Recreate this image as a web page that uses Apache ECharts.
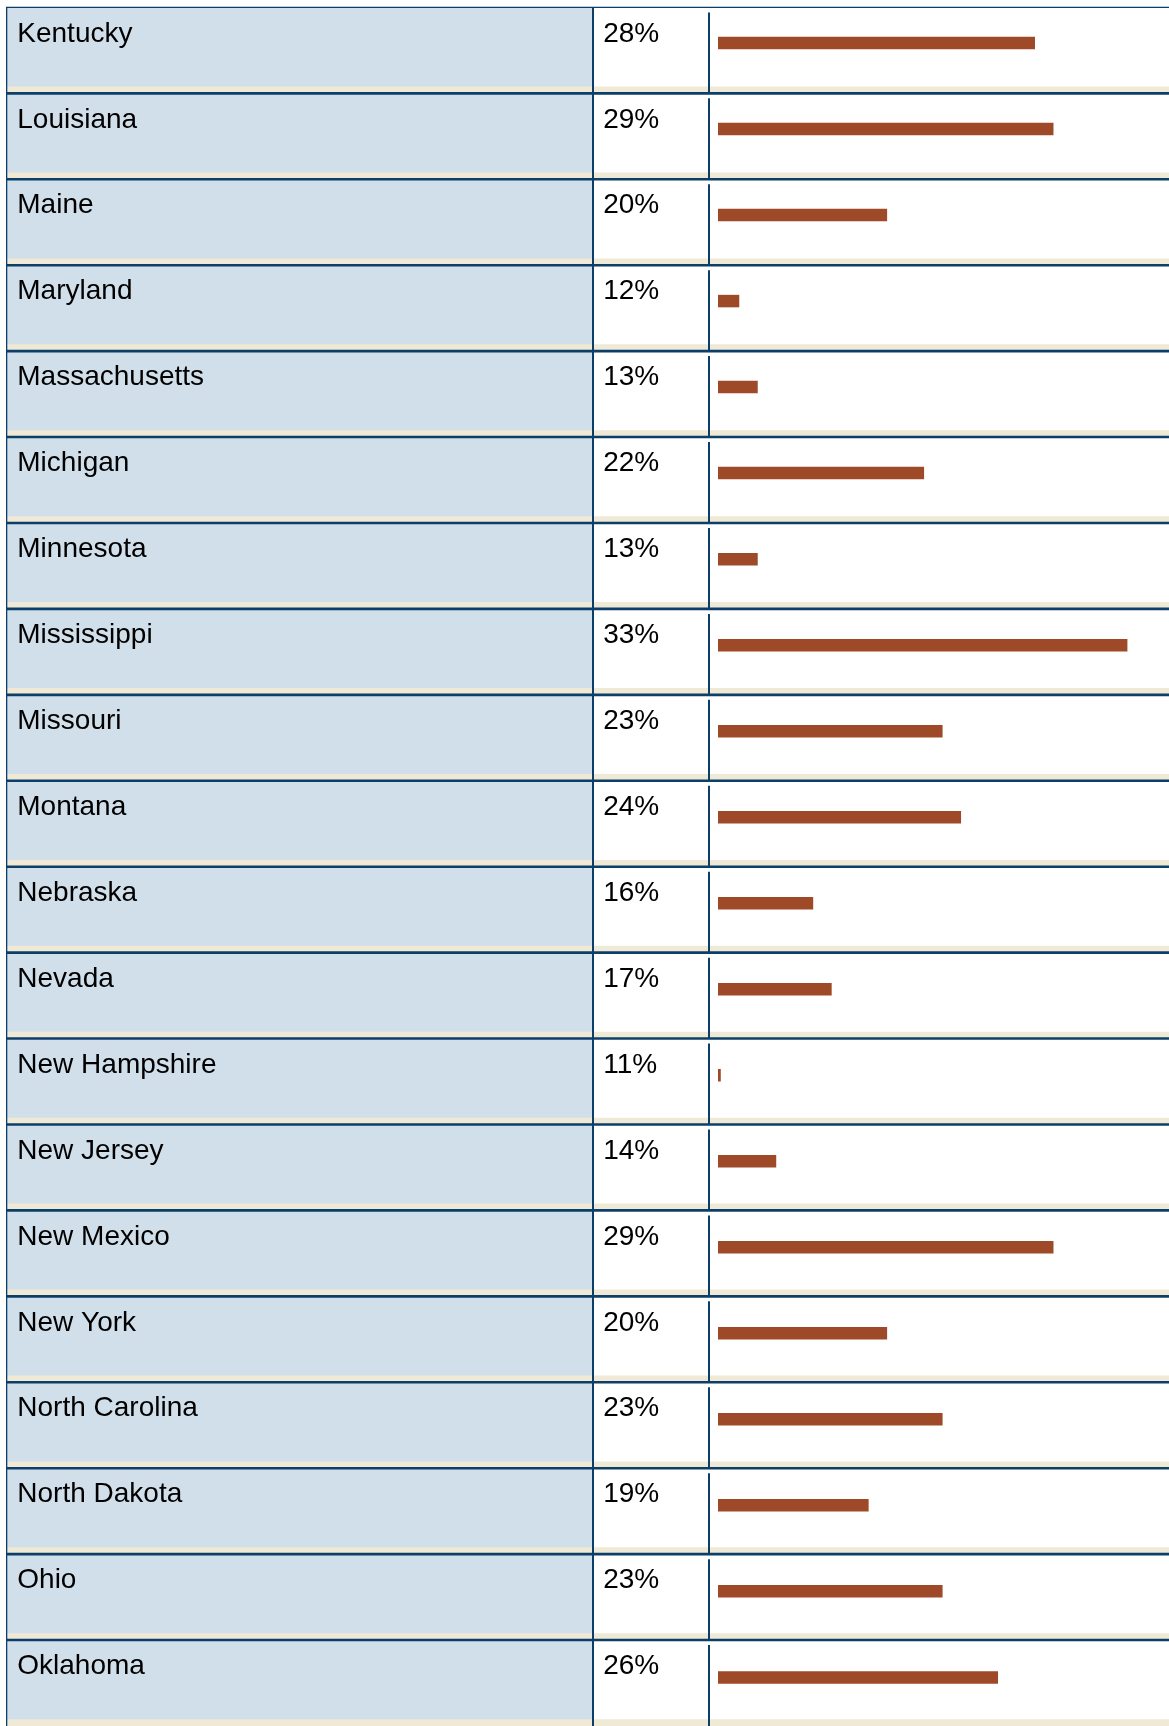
<!DOCTYPE html>
<html>
<head>
<meta charset="utf-8">
<script src="https://cdn.jsdelivr.net/npm/echarts@6/dist/echarts.min.js"></script>
<style>
  html, body { margin: 0; padding: 0; background: #ffffff; }
  #chart { width: 1169px; height: 1726px; }
</style>
</head>
<body>
<div id="chart"></div>
<script>
// Share of residents by state (percent)
const states = [
  'Kentucky', 'Louisiana', 'Maine', 'Maryland', 'Massachusetts',
  'Michigan', 'Minnesota', 'Mississippi', 'Missouri', 'Montana',
  'Nebraska', 'Nevada', 'New Hampshire', 'New Jersey', 'New Mexico',
  'New York', 'North Carolina', 'North Dakota', 'Ohio', 'Oklahoma'
];
const pcts = [
  28, 29, 20, 12, 13,
  22, 13, 33, 23, 24,
  16, 17, 11, 14, 29,
  20, 23, 19, 23, 26
];

// Table styling
const LINE = '#0b3f6a';
const CELL_BLUE = '#d1dfea';
const BEIGE = '#efe9d6';
const BAR = '#9e4a28';
const FONT = '28px "Liberation Sans", Arial, sans-serif';

const X_LEFT = 6, X_SPLIT1 = 592, X_SPLIT2 = 708, X_RIGHT = 1169;
const ROW_TOP = 7.4, ROW_H = 86.2;

// One row of the table: name cell, value cell, bar cell frame
function renderRow(params, api) {
  const i = params.dataIndex;
  const yc = api.coord([0, i])[1];
  const h = api.size([0, 1])[1];
  const top = yc - h / 2;
  const bottom = top + h;
  const lineW = i === 0 ? 1.2 : 2.6;
  return {
    type: 'group',
    children: [
      { type: 'rect', shape: { x: X_LEFT, y: top, width: X_SPLIT1 - X_LEFT, height: h }, style: { fill: CELL_BLUE } },
      { type: 'rect', shape: { x: X_LEFT, y: bottom - 6.8, width: X_RIGHT - X_LEFT, height: 6.8 }, style: { fill: BEIGE } },
      { type: 'rect', shape: { x: X_LEFT, y: top - lineW / 2, width: X_RIGHT - X_LEFT, height: lineW }, style: { fill: LINE } },
      { type: 'rect', shape: { x: X_LEFT, y: top, width: 1.3, height: h }, style: { fill: LINE } },
      { type: 'rect', shape: { x: X_SPLIT1, y: top, width: 2, height: h }, style: { fill: LINE } },
      { type: 'rect', shape: { x: X_SPLIT2, y: top + 5, width: 2, height: h - 5 }, style: { fill: LINE } },
      { type: 'text', style: { text: states[i], x: 17.3, y: top + 26.5, font: FONT, fill: '#000', verticalAlign: 'middle', align: 'left' } },
      { type: 'text', style: { text: pcts[i] + '%', x: 603.2, y: top + 26.5, font: FONT, fill: '#000', verticalAlign: 'middle', align: 'left' } }
    ]
  };
}

const rows = states.map((s, i) => [i, i]);

const chart = echarts.init(document.getElementById('chart'), null, { renderer: 'canvas' });
chart.setOption({
  animation: false,
  backgroundColor: '#ffffff',
  grid: [
    { left: 0, right: 0, top: ROW_TOP, height: ROW_H * states.length },
    { left: 718, right: 0, top: ROW_TOP - 11, height: ROW_H * states.length }
  ],
  xAxis: [
    { gridIndex: 0, type: 'value', min: 0, max: 1, show: false },
    { gridIndex: 1, type: 'value', min: 10.85, max: 35.25, show: false }
  ],
  yAxis: [
    { gridIndex: 0, type: 'category', data: states, inverse: true, show: false },
    { gridIndex: 1, type: 'category', data: states, inverse: true, show: false }
  ],
  series: [
    {
      type: 'custom',
      xAxisIndex: 0, yAxisIndex: 0,
      silent: true,
      renderItem: renderRow,
      data: rows
    },
    {
      type: 'bar',
      xAxisIndex: 1, yAxisIndex: 1,
      silent: true,
      data: pcts,
      barWidth: 12.5,
      itemStyle: { color: BAR }
    }
  ]
});
</script>
</body>
</html>
